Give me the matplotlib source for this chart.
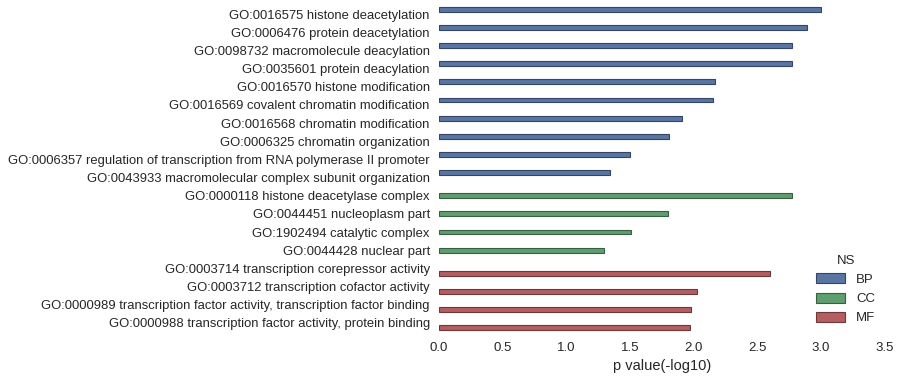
import colorsys
import matplotlib.pyplot as plt
import matplotlib.colors as mcolors
import numpy as np

terms = [
    "GO:0016575 histone deacetylation",
    "GO:0006476 protein deacetylation",
    "GO:0098732 macromolecule deacylation",
    "GO:0035601 protein deacylation",
    "GO:0016570 histone modification",
    "GO:0016569 covalent chromatin modification",
    "GO:0016568 chromatin modification",
    "GO:0006325 chromatin organization",
    "GO:0006357 regulation of transcription from RNA polymerase II promoter",
    "GO:0043933 macromolecular complex subunit organization",
    "GO:0000118 histone deacetylase complex",
    "GO:0044451 nucleoplasm part",
    "GO:1902494 catalytic complex",
    "GO:0044428 nuclear part",
    "GO:0003714 transcription corepressor activity",
    "GO:0003712 transcription cofactor activity",
    "GO:0000989 transcription factor activity, transcription factor binding",
    "GO:0000988 transcription factor activity, protein binding",
]
ns = ["BP"] * 10 + ["CC"] * 4 + ["MF"] * 4
pvals = [3.00, 2.89, 2.77, 2.77, 2.17, 2.15, 1.91, 1.81, 1.50, 1.34,
         2.77, 1.80, 1.51, 1.30,
         2.60, 2.03, 1.98, 1.97]
groups = ["BP", "CC", "MF"]
base = {"BP": "#4C72B0", "CC": "#55A868", "MF": "#C44E52"}


def desat(c, prop=0.75):
    h, l, s = colorsys.rgb_to_hls(*mcolors.to_rgb(c))
    return colorsys.hls_to_rgb(h, l, s * prop)


def darker(c, f=0.6):
    return tuple(v * f for v in c)


colors = {g: desat(c) for g, c in base.items()}
edges = {g: darker(c) for g, c in colors.items()}

TEXT = "#262626"
plt.rcParams.update({
    "font.family": ["Liberation Sans", "DejaVu Sans"],
    "text.color": TEXT,
    "axes.labelcolor": TEXT,
    "xtick.color": TEXT,
    "ytick.color": TEXT,
})

fig = plt.figure(figsize=(9.01, 3.79), dpi=100, facecolor="white")
ax = fig.add_axes([0.487, 0.124, 0.495, 0.863])

w = 0.8 / len(groups)
y = np.arange(len(terms))
for gi, g in enumerate(groups):
    idx = [i for i, n in enumerate(ns) if n == g]
    off = (gi - 1) * w
    ax.barh(y[idx] + off, [pvals[i] for i in idx], height=w,
            color=colors[g], edgecolor=edges[g], linewidth=0.8, label=g)

ax.set_yticks(y)
ax.set_yticklabels(terms, fontsize=9.4)
ax.set_ylim(len(terms) - 0.5, -0.5)
ax.set_xlim(0, 3.5)
ax.set_xticks(np.arange(0, 3.6, 0.5))
ax.tick_params(axis="x", labelsize=9.5, length=0, pad=7)
ax.tick_params(axis="y", length=0, pad=6.5)
ax.set_xlabel("p value(-log10)", fontsize=10.5, labelpad=4)
for s in ax.spines.values():
    s.set_visible(False)

leg = ax.legend(title="NS", loc="lower right", bbox_to_anchor=(1.005, -0.013),
                frameon=False, fontsize=9.5, title_fontsize=9.5,
                handlelength=2.2, handleheight=0.8)

plt.savefig("out.png", dpi=100, facecolor="white")
